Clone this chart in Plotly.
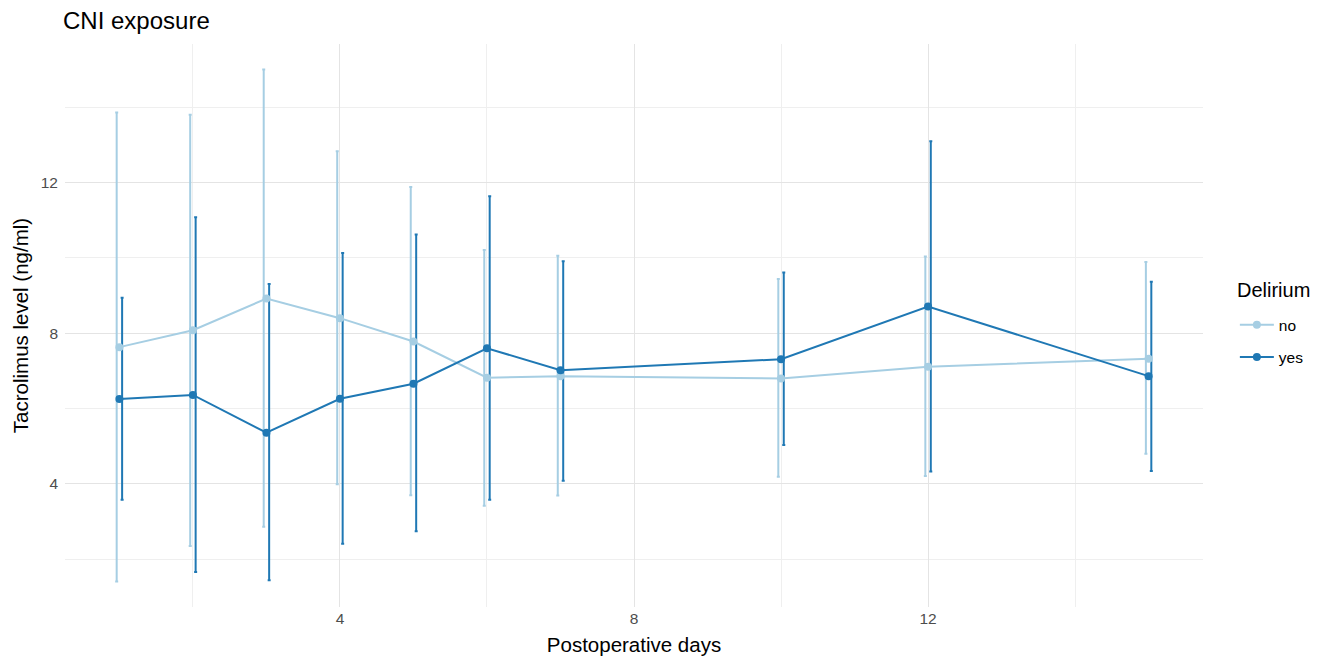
import plotly.graph_objects as go

# ---- data ----
days = [1, 2, 3, 4, 5, 6, 7, 10, 12, 15]

no_mean = [7.63, 8.08, 8.92, 8.40, 7.78, 6.82, 6.86, 6.80, 7.11, 7.32]
no_lower = [1.41, 2.35, 2.86, 3.99, 3.70, 3.42, 3.69, 4.19, 4.21, 4.80]
no_upper = [13.86, 13.80, 15.00, 12.83, 11.88, 10.21, 10.06, 9.44, 10.04, 9.89]

yes_mean = [6.25, 6.36, 5.36, 6.26, 6.66, 7.60, 7.02, 7.31, 8.71, 6.86]
yes_lower = [3.58, 1.66, 1.44, 2.41, 2.74, 3.58, 4.08, 5.03, 4.33, 4.34]
yes_upper = [8.94, 11.08, 9.31, 10.13, 10.62, 11.64, 9.91, 9.61, 13.10, 9.37]

groups = ["no", "yes"]
x_ticks = [4, 8, 12]
y_ticks = [4, 8, 12]

# ---- style ----
colors = {"no": "#a6cee3", "yes": "#1f78b4"}
dodge = {"no": -0.037, "yes": 0.037}
FONT = "Liberation Sans, Arial, sans-serif"

# the page body has an 8px margin, so the figure is 8px smaller
W, H = 1316, 651

series = {
    "no": (no_mean, no_lower, no_upper),
    "yes": (yes_mean, yes_lower, yes_upper),
}

fig = go.Figure()

# error bars (dodged), drawn first
for g in groups:
    m, lo, up = series[g]
    fig.add_trace(go.Scatter(
        x=[d + dodge[g] for d in days],
        y=m,
        mode="markers",
        marker=dict(size=0.1, color=colors[g], opacity=0),
        error_y=dict(
            type="data", symmetric=False,
            array=[u - v for u, v in zip(up, m)],
            arrayminus=[v - l for v, l in zip(m, lo)],
            color=colors[g], thickness=2, width=1.5,
        ),
        showlegend=False, hoverinfo="skip",
    ))

# lines + points
for g in groups:
    m, lo, up = series[g]
    fig.add_trace(go.Scatter(
        x=days, y=m, mode="lines+markers", name=g, legendgroup=g,
        line=dict(color=colors[g], width=2),
        marker=dict(color=colors[g], size=8),
    ))

grid_major = "#e4e4e4"
grid_minor = "#efefef"

fig.update_layout(
    width=W, height=H,
    paper_bgcolor="white", plot_bgcolor="white",
    font=dict(family=FONT, color="black"),
    margin=dict(l=57, r=120.6, t=35.5, b=51.7),
    title=dict(text="CNI exposure", x=55 / W, xref="container", xanchor="left",
               y=1 - 13 / H, yref="container", yanchor="middle",
               font=dict(size=24, color="black", family=FONT)),
    legend=dict(
        font=dict(size=15.5, color="black"),
        x=1.028, xanchor="left", y=0.472, yanchor="middle",
        itemwidth=34, tracegroupgap=9,
    ),
    annotations=[dict(
        text="Delirium", xref="paper", yref="paper",
        x=1.0285, xanchor="left",
        y=1 - (282 - 35.5) / (599.3 - 35.5), yanchor="middle",
        showarrow=False, font=dict(size=20, color="black"),
    )],
    xaxis=dict(
        range=[0.26, 15.74], automargin=False,
        tickmode="array", tickvals=x_ticks,
        showgrid=True, gridcolor=grid_major, gridwidth=1.3,
        minor=dict(tickmode="array", tickvals=[2, 6, 10, 14], showgrid=True,
                   gridcolor=grid_minor, gridwidth=1),
        zeroline=False, showline=False, ticks="",
        tickfont=dict(size=15.5, color="#4d4d4d"),
        title=dict(text="Postoperative days", font=dict(size=20.5, color="black"), standoff=12),
    ),
    yaxis=dict(
        range=[0.73, 15.68], automargin=False,
        tickmode="array", tickvals=y_ticks,
        showgrid=True, gridcolor=grid_major, gridwidth=1.3,
        minor=dict(tickmode="array", tickvals=[2, 6, 10, 14], showgrid=True,
                   gridcolor=grid_minor, gridwidth=1),
        zeroline=False, showline=False, ticks="",
        tickfont=dict(size=15.5, color="#4d4d4d"),
        ticklabelstandoff=6,
        title=dict(text="Tacrolimus level (ng/ml)", font=dict(size=20.5, color="black"), standoff=6),
    ),
)

fig.write_html("out.html")
